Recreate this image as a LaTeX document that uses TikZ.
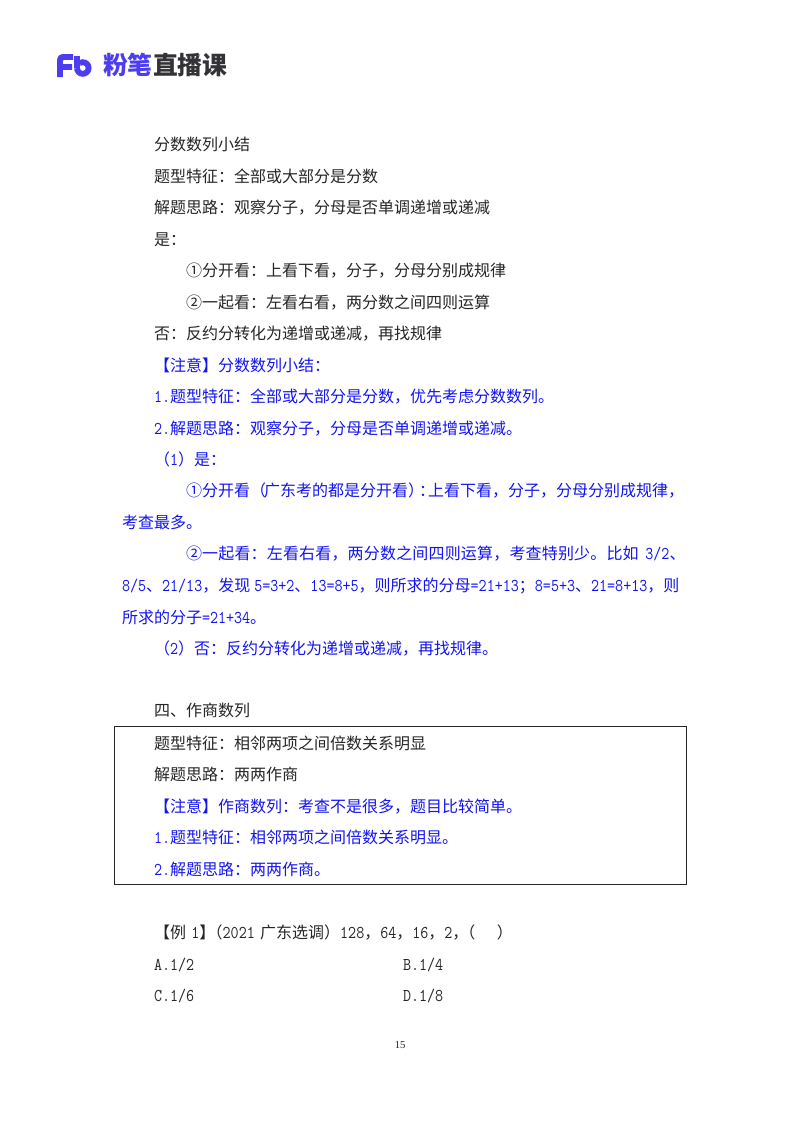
\documentclass[tikz,border=0pt]{standalone}
\usepackage{fontspec}
\setmainfont{Noto Sans CJK SC}
\newfontfamily\latf[FakeStretch=0.867]{Latin Modern Mono}
\newfontfamily\numf{Liberation Serif}
\newcommand{\an}[1]{{\latf\fontsize{13.5pt}{14pt}\selectfont #1}}
\definecolor{noteblue}{RGB}{20,20,240}
\definecolor{logoblue}{RGB}{76,62,240}
\definecolor{logodark}{RGB}{50,50,55}
\tikzset{
  txt/.style={anchor=base west,inner sep=0pt,outer sep=0pt,yshift=-0.9pt,font=\fontsize{12pt}{14pt}\selectfont,text=black!85},
  note/.style={txt,text=noteblue},
  logotxt/.style={anchor=base west,inner sep=0pt,outer sep=0pt,font=\fontsize{18.6pt}{20pt}\selectfont\bfseries},
  framebox/.style={draw=black!85,line width=0.75pt},
  logostroke/.style={draw=logoblue,line width=4.4pt,line cap=butt}
}
\begin{document}
\begin{tikzpicture}[x=0.75pt,y=-0.75pt]
\useasboundingbox (0,0) rectangle (800,1132);
\fill[white] (0,0) rectangle (800,1132);
% logo
\draw[logostroke] (60,77) -- (60,61.5) .. controls (60,57.5) and (61,57) .. (65,57) -- (73,57) (60,67) -- (72,67);
\draw[logostroke] (77,55.5) -- (77,68);
\draw[logostroke] (77,68) arc (180:-120:5.8);
\node[logotxt,text=logoblue] (lg1) at (103,74) {粉笔};
\node[logotxt,text=logodark] (lg2) at (153,74) {直播课};
% upper text
\node[txt] (a1) at (154,149) {分数数列小结};
\node[txt] (a2) at (154,181) {题型特征：全部或大部分是分数};
\node[txt] (a3) at (154,212) {解题思路：观察分子，分母是否单调递增或递减};
\node[txt] (a4) at (154,244) {是：};
\node[txt] (a5) at (186,275) {①分开看：上看下看，分子，分母分别成规律};
\node[txt] (a6) at (186,307) {②一起看：左看右看，两分数之间四则运算};
\node[txt] (a7) at (154,338) {否：反约分转化为递增或递减，再找规律};
% notes
\node[note] (b1) at (154,370) {【注意】分数数列小结：};
\node[note] (b2) at (154,401) {\an{1.}题型特征：全部或大部分是分数，优先考虑分数数列。};
\node[note] (b3) at (154,433) {\an{2.}解题思路：观察分子，分母是否单调递增或递减。};
\node[note] (b4) at (154,464) {（\an{1}）是：};
\node[note] (b5) at (186,495) {①分开看（\hspace{-1.5pt}广东考的都是分开看）\hspace{-3.75pt}：\hspace{-5.25pt}上看下看，分子，分母分别成规律，};
\node[note] (b6) at (122,527) {考查最多。};
\node[note] (b7) at (186,558) {\addfontfeature{LetterSpace=1.1}②一起看：左看右看，两分数之间四则运算，考查特别少。比如\hspace{5pt}\an{3/2}、};
\node[note] (b8) at (122,590) {\an{8/5}、\an{21/13}，发现\hspace{3pt}\an{5=3+2}、\an{13=8+5}，则所求的分母\an{=21+13}；\an{8=5+3}、\an{21=8+13}，则};
\node[note] (b9) at (122,622) {所求的分子\an{=21+34}。};
\node[note] (b10) at (154,653) {（\an{2}）否：反约分转化为递增或递减，再找规律。};
% section
\node[txt] (c1) at (154,715) {四、作商数列};
\draw[framebox] (114,726.5) rectangle (686.5,884.5);
\node[txt] (c2) at (154,748) {题型特征：相邻两项之间倍数关系明显};
\node[txt] (c3) at (154,779) {解题思路：两两作商};
\node[note] (c4) at (154,811) {【注意】作商数列：考查不是很多，题目比较简单。};
\node[note] (c5) at (154,842) {\an{1.}题型特征：相邻两项之间倍数关系明显。};
\node[note] (c6) at (154,874) {\an{2.}解题思路：两两作商。};
% example
\node[txt] (d1) at (154,937) {【例\hspace{4pt}\an{1}】\hspace{-6.5pt}（\an{2021}\hspace{4pt}广东选调）\an{128}，\an{64}，\an{16}，\an{2}，\hspace{-6.75pt}（\hspace{16pt}）};
\node[txt] (d2) at (154,969) {\an{A.1/2}};
\node[txt] (d3) at (403,969) {\an{B.1/4}};
\node[txt] (d4) at (154,1000) {\an{C.1/6}};
\node[txt] (d5) at (403,1000) {\an{D.1/8}};
\node[anchor=base west,inner sep=0pt,text=black!85,font=\numf\fontsize{8pt}{10pt}\selectfont] (pg) at (394.5,1048) {15};
\end{tikzpicture}
\end{document}
